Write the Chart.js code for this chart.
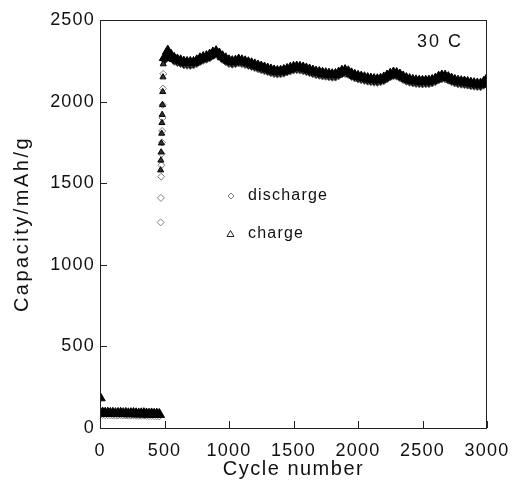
<!DOCTYPE html>
<html>
<head>
<meta charset="utf-8">
<script src="https://cdn.jsdelivr.net/npm/chart.js@4.4.1/dist/chart.umd.min.js"></script>
<style>
  html, body { margin: 0; padding: 0; background: #fff; }
  #wrap { width: 512px; height: 490px; position: relative; }
</style>
</head>
<body>
<div id="wrap"><canvas id="capChart"></canvas></div>
<script>
// values
const lowCycles = [0, 20, 40, 60, 80, 100, 120, 140, 160, 180, 200, 220, 240, 260, 280, 300, 320, 340, 360, 380, 400, 420, 440, 460];
const lowDischarge = [98, 80, 78, 79, 77, 78, 76, 77, 78, 76, 77, 75, 76, 77, 75, 74, 75, 76, 74, 73, 74, 72, 73, 71];
const lowCharge = [185, 92, 90, 91, 89, 90, 88, 89, 90, 88, 89, 87, 88, 89, 87, 86, 87, 88, 86, 85, 86, 84, 85, 83];

const rampCycles = [470, 472, 474, 476, 478, 480, 482, 484, 486, 488, 490];
const rampDischarge = [1260, 1410, 1540, 1610, 1680, 1750, 1820, 1900, 1980, 2080, 2170];
const rampCharge = [1580, 1640, 1690, 1745, 1805, 1870, 1920, 1980, 2060, 2150, 2230];

const mainCycles = [500, 525, 550, 575, 600, 625, 650, 675, 700, 725, 750, 775, 800, 825, 850, 875, 900, 925, 950, 975,
  1000, 1025, 1050, 1075, 1100, 1125, 1150, 1175, 1200, 1225, 1250, 1275, 1300, 1325, 1350, 1375, 1400, 1425, 1450, 1475,
  1500, 1525, 1550, 1575, 1600, 1625, 1650, 1675, 1700, 1725, 1750, 1775, 1800, 1825, 1850, 1875, 1900, 1925, 1950, 1975,
  2000, 2025, 2050, 2075, 2100, 2125, 2150, 2175, 2200, 2225, 2250, 2275, 2300, 2325, 2350, 2375, 2400, 2425, 2450, 2475,
  2500, 2525, 2550, 2575, 2600, 2625, 2650, 2675, 2700, 2725, 2750, 2775, 2800, 2825, 2850, 2875, 2900, 2925, 2950, 2975, 3000];
const mainCharge = [2270, 2310, 2285, 2265, 2255, 2250, 2242, 2240, 2240, 2240, 2250, 2262, 2270, 2276, 2285, 2298, 2306, 2292, 2275, 2262,
  2250, 2245, 2248, 2255, 2250, 2244, 2238, 2232, 2225, 2218, 2212, 2206, 2200, 2194, 2188, 2185, 2186, 2191, 2197, 2204,
  2210, 2212, 2210, 2206, 2200, 2194, 2187, 2181, 2178, 2174, 2171, 2168, 2165, 2166, 2175, 2186, 2190, 2183, 2170, 2161,
  2155, 2150, 2146, 2141, 2138, 2135, 2134, 2137, 2145, 2157, 2168, 2175, 2172, 2163, 2151, 2141, 2135, 2130, 2127, 2125,
  2124, 2125, 2126, 2130, 2138, 2150, 2157, 2156, 2147, 2138, 2130, 2125, 2122, 2120, 2117, 2113, 2110, 2108, 2107, 2118, 2140];
const mainDischarge = [2255, 2296, 2270, 2250, 2242, 2236, 2228, 2226, 2225, 2228, 2236, 2248, 2256, 2262, 2270, 2284, 2292, 2280, 2262, 2248,
  2236, 2232, 2235, 2240, 2236, 2230, 2224, 2218, 2212, 2205, 2198, 2192, 2186, 2180, 2175, 2172, 2173, 2177, 2184, 2190,
  2196, 2198, 2196, 2192, 2186, 2180, 2174, 2168, 2164, 2160, 2158, 2155, 2152, 2153, 2161, 2172, 2176, 2170, 2157, 2148,
  2142, 2137, 2133, 2128, 2125, 2122, 2121, 2124, 2131, 2143, 2154, 2161, 2159, 2150, 2138, 2128, 2122, 2117, 2114, 2112,
  2111, 2112, 2113, 2117, 2125, 2136, 2143, 2143, 2134, 2125, 2117, 2112, 2109, 2107, 2104, 2100, 2097, 2095, 2094, 2104, 2126];

const xTicks = [0, 500, 1000, 1500, 2000, 2500, 3000];
const yTicks = [0, 500, 1000, 1500, 2000, 2500];

function toPoints(xs, ys) {
  return xs.map((x, i) => ({ x: x, y: ys[i] }));
}

const FONT = '"Liberation Sans", Arial, sans-serif';

// frame, inward ticks, titles, legend and label
const decorPlugin = {
  id: 'decor',
  beforeDraw(chart) {
    chart.ctx.letterSpacing = '1.2px';
  },
  afterDraw(chart) {
    const ctx = chart.ctx;
    const a = chart.chartArea;
    const xs = chart.scales.x;
    const ys = chart.scales.y;
    ctx.save();
    ctx.strokeStyle = '#222';
    ctx.lineWidth = 1;
    ctx.strokeRect(a.left + 0.5, a.top + 0.5, a.right - a.left - 1, a.bottom - a.top);
    ctx.beginPath();
    xTicks.forEach(v => {
      const px = Math.round(xs.getPixelForValue(v)) + 0.5;
      ctx.moveTo(px, a.bottom);
      ctx.lineTo(px, a.bottom - 7);
    });
    yTicks.forEach(v => {
      const py = Math.round(ys.getPixelForValue(v)) + 0.5;
      ctx.moveTo(a.left, py);
      ctx.lineTo(a.left + 7, py);
    });
    ctx.stroke();

    ctx.fillStyle = '#111';
    ctx.textBaseline = 'middle';
    ctx.textAlign = 'center';
    ctx.font = '20px ' + FONT;
    ctx.letterSpacing = '1.5px';
    ctx.fillText('Cycle number', (a.left + a.right) / 2, 469);

    ctx.save();
    ctx.translate(22, (a.top + a.bottom) / 2);
    ctx.rotate(-Math.PI / 2);
    ctx.letterSpacing = '2.5px';
    ctx.fillText('Capacity/mAh/g', 0, 0);
    ctx.restore();

    ctx.textAlign = 'left';
    ctx.font = '18px ' + FONT;
    ctx.letterSpacing = '2px';
    ctx.fillText('30 C', 417, 42);

    // legend
    ctx.font = '16px ' + FONT;
    ctx.letterSpacing = '1.2px';
    ctx.fillText('discharge', 248, 196);
    ctx.fillText('charge', 248, 234);
    ctx.strokeStyle = '#777';
    ctx.beginPath();
    ctx.moveTo(231, 193); ctx.lineTo(234, 196); ctx.lineTo(231, 199); ctx.lineTo(228, 196); ctx.closePath();
    ctx.stroke();
    ctx.strokeStyle = '#222';
    ctx.beginPath();
    ctx.moveTo(230.5, 230.5); ctx.lineTo(234, 236.5); ctx.lineTo(227, 236.5); ctx.closePath();
    ctx.stroke();
    ctx.restore();
  }
};

const dischargeStyle = {
  pointStyle: 'rectRot',
  pointRadius: 3.5,
  borderColor: '#808080',
  backgroundColor: '#fff',
  borderWidth: 1,
  showLine: false,
  order: 2
};
const mainDischargeStyle = Object.assign({}, dischargeStyle, { pointRadius: 4.5, borderColor: '#666', backgroundColor: '#111' });
const chargeStyle = {
  pointStyle: 'triangle',
  pointRadius: 6,
  borderColor: '#000',
  backgroundColor: '#000',
  borderWidth: 1,
  showLine: false,
  order: 1
};
const rampChargeStyle = Object.assign({}, chargeStyle, { pointRadius: 3.5, backgroundColor: '#333' });

const ctx1 = document.getElementById('capChart').getContext('2d');
const capChart = new Chart(ctx1, {
  type: 'scatter',
  data: {
    datasets: [
      Object.assign({ label: 'discharge', data: toPoints(lowCycles, lowDischarge) }, dischargeStyle),
      Object.assign({ label: 'discharge', data: toPoints(rampCycles, rampDischarge) }, dischargeStyle),
      Object.assign({ label: 'discharge', data: toPoints(mainCycles, mainDischarge) }, mainDischargeStyle),
      Object.assign({ label: 'charge', data: toPoints(lowCycles, lowCharge) }, chargeStyle),
      Object.assign({ label: 'charge', data: toPoints(rampCycles, rampCharge) }, rampChargeStyle),
      Object.assign({ label: 'charge', data: toPoints(mainCycles, mainCharge) }, chargeStyle)
    ]
  },
  options: {
    responsive: true,
    maintainAspectRatio: false,
    animation: false,
    layout: { padding: { left: 0, right: 25, top: 20, bottom: 0 } },
    scales: {
      x: {
        type: 'linear',
        min: 0,
        max: 3000,
        afterFit: s => { s.height = 62; s.paddingLeft = 0; s.paddingRight = 0; },
        afterBuildTicks: s => { s.ticks = xTicks.map(v => ({ value: v })); },
        grid: { display: false, drawTicks: false },
        border: { display: false },
        ticks: { padding: 12, color: '#111', font: { family: FONT, size: 18 }, maxRotation: 0, callback: v => String(v) }
      },
      y: {
        type: 'linear',
        min: 0,
        max: 2500,
        afterFit: s => { s.width = 100; s.paddingTop = 0; s.paddingBottom = 0; },
        afterBuildTicks: s => { s.ticks = yTicks.map(v => ({ value: v })); },
        grid: { display: false, drawTicks: false },
        border: { display: false },
        ticks: { padding: 5, color: '#111', font: { family: FONT, size: 18 }, callback: v => String(v) }
      }
    },
    plugins: {
      legend: { display: false },
      tooltip: { enabled: false }
    }
  },
  plugins: [decorPlugin]
});
</script>
</body>
</html>
